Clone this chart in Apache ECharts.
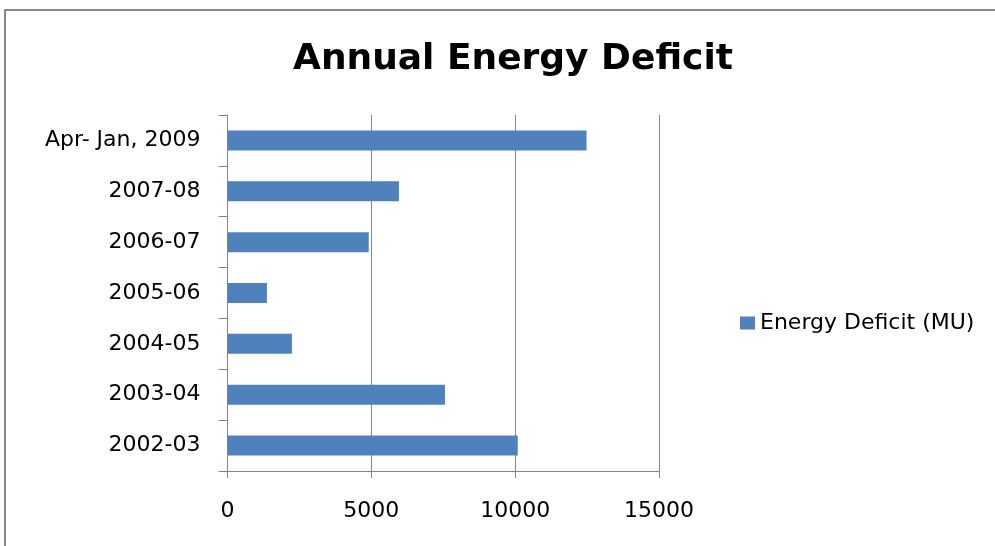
<!DOCTYPE html>
<html>
<head>
    <meta charset="utf-8">
    <script src="https://cdn.jsdelivr.net/npm/echarts@6/dist/echarts.min.js"></script>
    <style>
        html, body { margin: 0; padding: 0; background: #fff; }
    </style>
</head>
<body>
    <div id="main" style="width: 995px;height:546px;"></div>
    <script type="text/javascript">
        // categories top to bottom
        var periods = ['Apr- Jan, 2009', '2007-08', '2006-07', '2005-06', '2004-05', '2003-04', '2002-03'];
        var deficit = [12480, 5960, 4910, 1370, 2240, 7560, 10090];
        var xTicks = [0, 5000, 10000, 15000];

        var axisGray = '#868686';
        var fontName = '"DejaVu Sans", sans-serif';

        var option = {
            backgroundColor: '#fff',
            animation: false,
            title: {
                text: 'Annual Energy Deficit',
                left: 508,
                textAlign: 'center',
                top: 37,
                textStyle: {
                    fontFamily: fontName,
                    fontWeight: 'bold',
                    fontSize: 36,
                    color: '#000'
                }
            },
            legend: {
                data: ['Energy Deficit (MU)'],
                left: 735,
                top: 307,
                icon: 'rect',
                itemWidth: 15,
                itemHeight: 13,
                itemGap: 8,
                textStyle: { fontFamily: fontName, fontSize: 22, color: '#000' }
            },
            grid: {
                left: 227.5,
                right: 336,
                top: 115,
                bottom: 75
            },
            xAxis: {
                type: 'value',
                min: 0,
                max: xTicks[xTicks.length - 1],
                interval: 5000,
                axisLine: { show: true, lineStyle: { color: axisGray, width: 1 } },
                axisTick: { show: true, length: 7, lineStyle: { color: axisGray } },
                axisLabel: {
                    margin: 29,
                    fontFamily: fontName,
                    fontSize: 22,
                    color: '#000',
                    formatter: function (v) { return String(v); }
                },
                splitLine: { show: true, lineStyle: { color: axisGray, width: 1 } }
            },
            yAxis: {
                type: 'category',
                inverse: true,
                data: periods,
                axisLine: { show: true, lineStyle: { color: axisGray, width: 1 } },
                axisTick: { show: true, length: 9, lineStyle: { color: axisGray } },
                axisLabel: {
                    margin: 27,
                    fontFamily: fontName,
                    fontSize: 22,
                    color: '#000'
                }
            },
            graphic: [
                {
                    type: 'rect',
                    shape: { x: 5, y: 10, width: 1000, height: 560 },
                    style: { fill: 'none', stroke: '#888', lineWidth: 2 },
                    silent: true
                }
            ],
            series: [
                {
                    name: 'Energy Deficit (MU)',
                    type: 'bar',
                    data: deficit,
                    barWidth: 20,
                    itemStyle: { color: '#4f81bd' }
                }
            ]
        };

        var myChart = echarts.init(document.getElementById('main'));
        myChart.setOption(option);
    </script>
</body>
</html>
